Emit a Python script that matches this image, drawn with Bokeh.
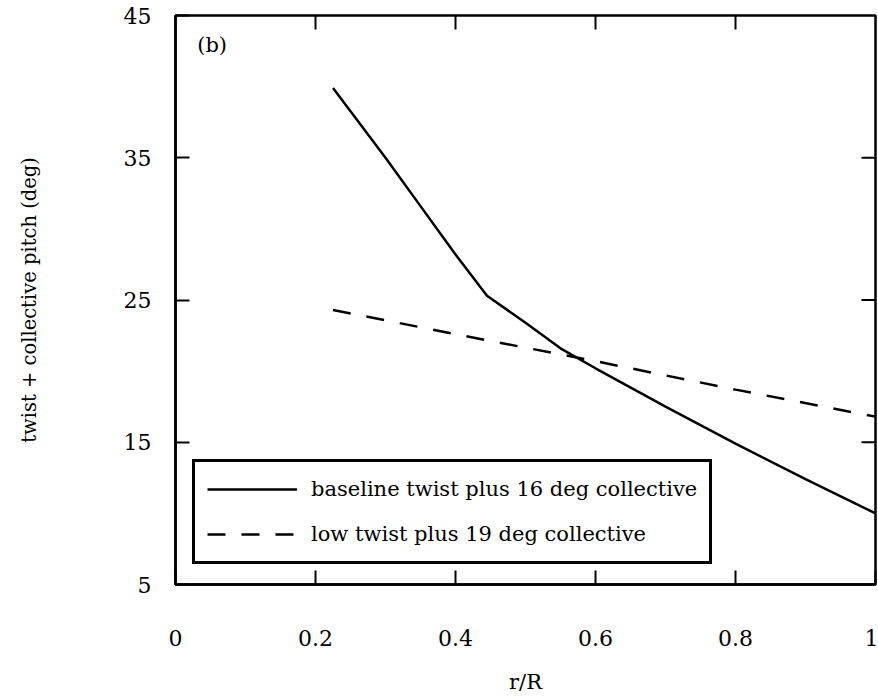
from bokeh.plotting import figure
from bokeh.models import Legend, LegendItem, Label, Range1d, FixedTicker
from bokeh.embed import file_html
from bokeh.resources import INLINE

# Blade pitch distributions along the span
r_baseline = [0.225, 0.30, 0.35, 0.40, 0.445, 0.50, 0.55, 0.60, 0.70, 0.80, 0.90, 1.00]
pitch_baseline = [39.9, 35.0, 31.6, 28.2, 25.3, 23.4, 21.6, 20.2, 17.5, 14.9, 12.4, 10.0]

r_lowtwist = [0.225, 0.40, 0.60, 0.80, 1.00]
pitch_lowtwist = [24.3, 22.6, 20.7, 18.7, 16.8]

x_ticks = [0, 0.2, 0.4, 0.6, 0.8, 1.0]
x_tick_labels = {0: "0", 0.2: "0.2", 0.4: "0.4", 0.6: "0.6", 0.8: "0.8", 1.0: "1"}
y_ticks = [5, 15, 25, 35, 45]

FONT = "DejaVu Serif"

X0, X1, Y0, Y1 = 0, 1, 5, 45
p = figure(width=878, height=698, output_backend="svg", toolbar_location=None,
           x_range=Range1d(X0, X1), y_range=Range1d(Y0, Y1),
           min_border_left=175, min_border_right=3, min_border_top=15, min_border_bottom=114)

p.xgrid.visible = False
p.ygrid.visible = False
p.background_fill_color = "white"
p.border_fill_color = "white"
p.outline_line_color = "black"
p.outline_line_width = 2.5

solid = p.line(r_baseline, pitch_baseline, line_color="black", line_width=2.5)
dashed = p.line(r_lowtwist, pitch_lowtwist, line_color="black", line_width=2.5,
                line_dash="18 16")

# inward tick marks on the top and right edges, mirroring the labelled axes
tick_dy = (Y1 - Y0) * 14 / 569
tick_dx = (X1 - X0) * 14 / 700
inner_x = [t for t in x_ticks if X0 < t < X1]
inner_y = [t for t in y_ticks if Y0 < t < Y1]
p.segment(x0=inner_x, x1=inner_x, y0=[Y1] * len(inner_x), y1=[Y1 - tick_dy] * len(inner_x),
          line_color="black", line_width=2)
p.segment(x0=[X1] * len(inner_y), x1=[X1 - tick_dx] * len(inner_y), y0=inner_y, y1=inner_y,
          line_color="black", line_width=2)

def style_axis(ax):
    ax.axis_line_color = "black"
    ax.axis_line_width = 2.5
    ax.major_tick_in = 14
    ax.major_tick_out = 0
    ax.major_tick_line_width = 2
    ax.major_tick_line_color = "black"
    ax.minor_tick_line_color = None
    ax.major_label_text_font = FONT
    ax.major_label_text_color = "black"
    ax.major_label_text_font_size = "22px"
    ax.axis_label_text_font = FONT
    ax.axis_label_text_font_style = "normal"
    ax.axis_label_text_color = "black"

xa = p.xaxis[0]
xa.ticker = FixedTicker(ticks=x_ticks)
xa.major_label_overrides = x_tick_labels
style_axis(xa)
xa.major_label_standoff = 45
xa.axis_label = "r/R"
xa.axis_label_text_font_size = "21px"
xa.axis_label_standoff = 21

ya = p.yaxis[0]
ya.ticker = FixedTicker(ticks=y_ticks)
style_axis(ya)
ya.major_label_standoff = 24
ya.axis_label = "twist + collective pitch (deg)"
ya.axis_label_text_font_size = "19.5px"
ya.axis_label_standoff = 80

p.add_layout(Label(x=0.031, y=42.9, text="(b)", text_font=FONT, text_font_size="21px",
                   text_align="left", text_baseline="middle", text_color="black"))

legend = Legend(items=[
    LegendItem(label="baseline twist plus 16 deg collective", renderers=[solid]),
    LegendItem(label="low twist plus 19 deg collective", renderers=[dashed]),
], location=(17, 20))
legend.margin = 0
legend.padding = 12
legend.spacing = 15
legend.glyph_width = 90
legend.glyph_height = 30
legend.label_height = 30
legend.label_standoff = 14
legend.label_text_font = FONT
legend.label_text_font_size = "21px"
legend.label_text_color = "black"
legend.border_line_color = "black"
legend.border_line_alpha = 1.0
legend.border_line_width = 3
legend.background_fill_color = "white"
legend.background_fill_alpha = 1.0
p.add_layout(legend, "center")

open("out.html", "w").write(file_html(p, INLINE))
